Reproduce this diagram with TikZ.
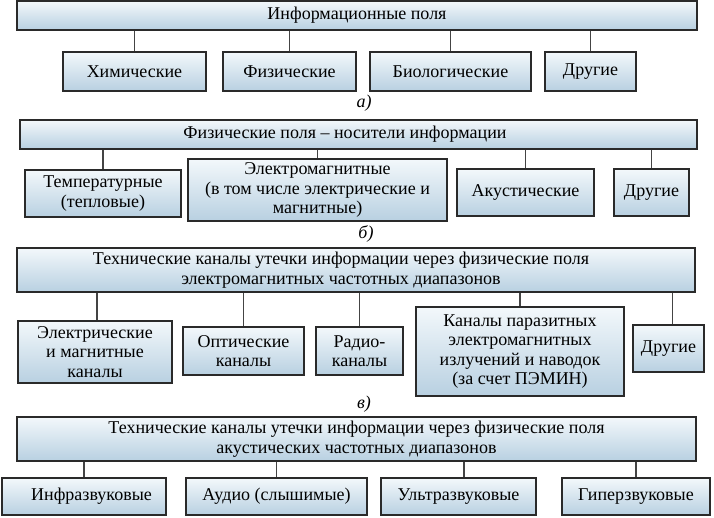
\documentclass[tikz,border=0pt]{standalone}
\usepackage{fontspec}
\setmainfont{Liberation Serif}
\usetikzlibrary{shadows}
\definecolor{boxtop}{HTML}{F3F8FB}
\definecolor{boxbot}{HTML}{B8D0E1}
\definecolor{edge}{HTML}{2A2A2A}
\definecolor{conn}{HTML}{444444}
\tikzset{
  box/.style={draw=edge, line width=1.2pt, top color=boxtop, bottom color=boxbot,
    drop shadow={shadow xshift=1pt, shadow yshift=-1pt, fill=black!55, opacity=0.8},
    inner sep=0pt, align=center, font=\fontsize{18}{19.5}\selectfont},
  txt/.style={inner sep=0pt, align=center, font=\fontsize{18}{19.5}\selectfont},
  sublabel/.style={inner sep=0pt, font=\fontsize{18}{19.5}\selectfont\itshape},
  link/.style={draw=conn, line width=1.6pt},
}
\begin{document}
\begin{tikzpicture}[x=1pt,y=-1pt]
\useasboundingbox[fill=white] (0,0) rectangle (714,518);
% ---- a
\node[box, minimum width=680pt, minimum height=29pt] (A0) at (357,15.5) {Информационные поля};
\node[box, minimum width=143pt, minimum height=39pt] (a1) at (134.5,71.5) {Химические};
\node[box, minimum width=133pt, minimum height=39pt] (a2) at (289.5,71.5) {Физические};
\node[box, minimum width=161pt, minimum height=39pt] (a3) at (450.5,71.5) {Биологические};
\node[box, minimum width=91pt, minimum height=39pt] (a4) at (590.5,71.5) {Другие};
\foreach \c in {a1,a2,a3,a4} \draw[link] (A0.south -| \c.north) -- (\c.north);
\node[sublabel] (la) at (364,103) {а)};
% ---- b
\node[box, minimum width=677pt, minimum height=29pt] (B0) at (358.5,134.5) {};
\node[txt] (B0t) at (345,134.5) {Физические поля – носители информации};
\node[box, minimum width=156pt, minimum height=47pt] (b1) at (103,193.5) {Температурные\\(тепловые)};
\node[box, minimum width=259pt, minimum height=62pt] (b2) at (317.5,190) {Электромагнитные\\(в том числе электрические и\\магнитные)};
\node[box, minimum width=137pt, minimum height=47pt] (b3) at (525.5,192.5) {Акустические};
\node[box, minimum width=75pt, minimum height=47pt] (b4) at (651.5,192.5) {Другие};
\foreach \c in {b1,b2,b3,b4} \draw[link] (B0.south -| \c.north) -- (\c.north);
\node[sublabel] (lb) at (366,234) {б)};
% ---- c
\node[box, minimum width=678pt, minimum height=44pt] (C0) at (356,270) {};
\node[txt] (C0t) at (341,270) {Технические каналы утечки информации через физические поля\\электромагнитных частотных диапазонов};
\node[box, minimum width=154pt, minimum height=62pt] (c1) at (95,352) {Электрические\\и магнитные\\каналы};
\node[box, minimum width=121pt, minimum height=48pt] (c2) at (243.5,351) {Оптические\\каналы};
\node[box, minimum width=87pt, minimum height=48pt] (c3) at (359.5,351) {Радио-\\каналы};
\node[box, minimum width=208pt, minimum height=89pt] (c4) at (520,351.5) {Каналы паразитных\\электромагнитных\\излучений и наводок\\(за счет ПЭМИН)};
\node[box, minimum width=71pt, minimum height=47pt] (c5) at (668.5,348.5) {Другие};
\foreach \c in {c2,c3,c4} \draw[link] (C0.south -| \c.north) -- (\c.north);
\draw[link] ([xshift=2pt]C0.south -| c1.north) -- ([xshift=2pt]c1.north);
\draw[link] ([xshift=4pt]C0.south -| c5.north) -- ([xshift=4pt]c5.north);
\node[sublabel] (lc) at (364,404) {в)};
% ---- d
\node[box, minimum width=679pt, minimum height=44pt] (D0) at (356.5,439) {Технические каналы утечки информации через физические поля\\акустических частотных диапазонов};
\node[box, minimum width=164pt, minimum height=37pt] (d1) at (84,496.5) {};
\node[txt] (d1t) at (91.5,496.5) {Инфразвуковые};
\node[box, minimum width=181pt, minimum height=37pt] (d2) at (276.5,496.5) {Аудио (слышимые)};
\node[box, minimum width=155pt, minimum height=37pt] (d3) at (458.5,496.5) {Ультразвуковые};
\node[box, minimum width=148pt, minimum height=37pt] (d4) at (636,496.5) {Гиперзвуковые};
\foreach \c in {d1,d2,d4} \draw[link] (D0.south -| \c.north) -- (\c.north);
\draw[link] ([xshift=5.5pt]D0.south -| d3.north) -- ([xshift=5.5pt]d3.north);
\end{tikzpicture}
\end{document}
